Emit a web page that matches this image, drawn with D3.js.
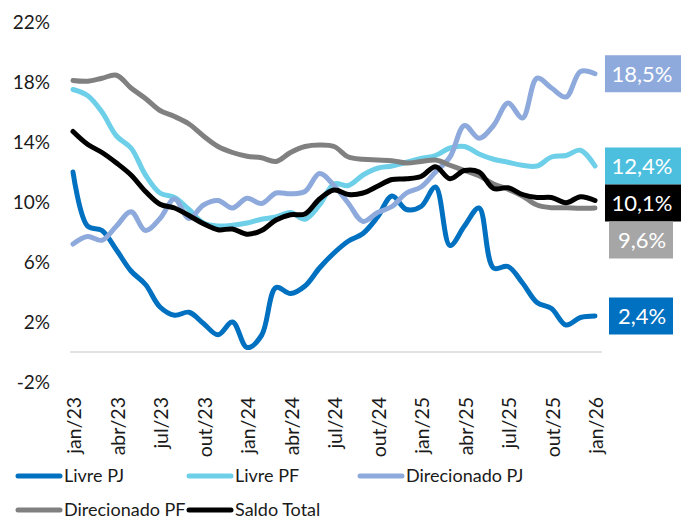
<!DOCTYPE html>
<html>
<head>
<meta charset="utf-8">
<script src="https://cdn.jsdelivr.net/npm/d3@7/dist/d3.min.js"></script>
<style>
  body { margin: 0; background: #fff; }
  text { font-family: Lato, "Open Sans", sans-serif; }
</style>
</head>
<body>
<script>
      // Data (% a.a.), jan/23 .. jan/26
      var months = ["jan/23","fev/23","mar/23","abr/23","mai/23","jun/23","jul/23","ago/23","set/23","out/23","nov/23","dez/23",
                    "jan/24","fev/24","mar/24","abr/24","mai/24","jun/24","jul/24","ago/24","set/24","out/24","nov/24","dez/24",
                    "jan/25","fev/25","mar/25","abr/25","mai/25","jun/25","jul/25","ago/25","set/25","out/25","nov/25","dez/25",
                    "jan/26"];

      var livrePJ = [12.0, 8.4, 8.1, 6.8, 5.4, 4.5, 3.0, 2.45, 2.65, 1.9, 1.15, 2.0,
                     0.3, 1.1, 4.3, 3.9, 4.4, 5.6, 6.6, 7.4, 7.9, 9.0, 10.4, 9.5,
                     9.7, 11.0, 7.1, 8.4, 9.6, 5.6, 5.7, 4.6, 3.3, 2.9, 1.8, 2.3,
                     2.4];
      var livrePF = [17.5, 17.1, 16.0, 14.4, 13.6, 11.8, 10.6, 10.3, 9.5, 8.6, 8.4, 8.45,
                     8.6, 8.85, 9.0, 9.3, 8.85, 9.8, 11.2, 11.1, 11.8, 12.25, 12.4, 12.65,
                     12.9, 13.1, 13.6, 13.7, 13.2, 12.85, 12.65, 12.45, 12.4, 13.0, 13.1, 13.45,
                     12.4];
      var direcPJ = [7.2, 7.7, 7.45, 8.4, 9.35, 8.1, 8.9, 10.2, 8.9, 9.8, 10.1, 9.6,
                     10.25, 9.9, 10.6, 10.55, 10.7, 11.9, 11.1, 9.9, 8.7, 9.3, 9.7, 10.6,
                     11.0, 12.0, 13.0, 15.1, 14.25, 15.1, 16.6, 15.6, 18.25, 17.6, 17.0, 18.7,
                     18.55];
      var direcPF = [18.1, 18.05, 18.25, 18.45, 17.6, 16.9, 16.1, 15.7, 15.2, 14.4, 13.7, 13.3,
                     13.05, 12.95, 12.7, 13.3, 13.7, 13.8, 13.7, 13.0, 12.85, 12.8, 12.75, 12.6,
                     12.7, 12.8, 12.45, 12.1, 11.75, 11.2, 10.85, 10.4, 9.8, 9.62, 9.62, 9.58,
                     9.6];
      var saldo   = [14.7, 13.85, 13.3, 12.6, 11.8, 10.7, 9.85, 9.6, 9.1, 8.55, 8.15, 8.2,
                     7.85, 8.1, 8.8, 9.15, 9.2, 10.2, 10.8, 10.5, 10.6, 11.05, 11.5, 11.55,
                     11.7, 12.35, 11.55, 12.1, 12.0, 10.9, 10.95, 10.5, 10.3, 10.3, 9.95, 10.35,
                     10.1];

      var names   = ["Livre PJ", "Livre PF", "Direcionado PJ", "Direcionado PF", "Saldo Total"];
      var colors  = ["#0070C0", "#6ECFE8", "#8EA9DB", "#808080", "#000000"];
      var boxFill = ["#0070C0", "#4CBFDE", "#8EA9DB", "#A6A6A6", "#000000"];
      var endLabels = ["2,4%", "12,4%", "18,5%", "9,6%", "10,1%"];
      var yTicks = [-2, 2, 6, 10, 14, 18, 22];

      var series = [livrePJ, livrePF, direcPJ, direcPF, saldo];

      var w = 681, h = 521;

      var svg = d3.select("body").append("svg")
          .attr("width", w)
          .attr("height", h);

      var x = d3.scalePoint().domain(months).range([73, 595]);
      var y = d3.scaleLinear().domain([-2, 22]).range([382, 22]);

      // y labels
      svg.append("g").selectAll("text")
        .data(yTicks)
        .enter().append("text")
          .attr("x", 50)
          .attr("y", d => y(d))
          .attr("dy", "0.36em")
          .attr("text-anchor", "end")
          .attr("font-size", 19)
          .attr("fill", "#1a1a1a")
          .text(d => d + "%");

      // zero line
      svg.append("line")
        .attr("x1", 70).attr("x2", 602)
        .attr("y1", y(0)).attr("y2", y(0))
        .attr("stroke", "#d9d9d9")
        .attr("stroke-width", 1.5);

      // x labels every 3 months, rotated
      svg.append("g").selectAll("text")
        .data(months.filter((m, i) => i % 3 === 0))
        .enter().append("text")
          .attr("transform", d => `translate(${x(d) + 1}, 397) rotate(-90)`)
          .attr("dy", "0.36em")
          .attr("text-anchor", "end")
          .attr("font-size", 19.5)
          .attr("fill", "#1a1a1a")
          .text(d => d);

      // lines
      var line = d3.line()
          .x((d, i) => x(months[i]))
          .y(d => y(d))
          .curve(d3.curveCatmullRom.alpha(0.5));

      svg.append("g").selectAll("path")
        .data(series)
        .enter().append("path")
          .attr("d", line)
          .attr("fill", "none")
          .attr("stroke", (d, i) => colors[i])
          .attr("stroke-width", 5)
          .attr("stroke-linejoin", "round")
          .attr("stroke-linecap", "round");

      // end labels, stacked top-down so boxes do not overlap
      var boxH = 37;
      var ends = series.map((s, i) => ({i: i, cy: y(s[s.length - 1])}))
          .sort((a, b) => a.cy - b.cy);
      var lastBottom = -Infinity;
      ends.forEach(e => {
        var top = Math.max(e.cy - boxH / 2, lastBottom);
        e.top = top;
        lastBottom = top + boxH;
      });

      var lab = svg.append("g").selectAll("g")
        .data(ends)
        .enter().append("g");

      lab.append("rect")
        .attr("x", d => endLabels[d.i].length > 4 ? 605 : 609)
        .attr("y", d => d.top)
        .attr("width", d => endLabels[d.i].length > 4 ? 78 : 64)
        .attr("height", boxH)
        .attr("fill", d => boxFill[d.i]);

      lab.append("text")
        .attr("x", 642)
        .attr("y", d => d.top + boxH / 2)
        .attr("dy", "0.36em")
        .attr("text-anchor", "middle")
        .attr("font-size", 22)
        .attr("fill", "#fff")
        .text(d => endLabels[d.i]);

      // legend
      var legX = [18, 189, 360, 18, 189];
      var legY = [476, 476, 476, 510, 510];

      var leg = svg.append("g").selectAll("g")
        .data(names)
        .enter().append("g")
          .attr("transform", (d, i) => `translate(${legX[i]}, ${legY[i]})`);

      leg.append("line")
        .attr("x1", 0).attr("x2", 42)
        .attr("stroke", (d, i) => colors[i])
        .attr("stroke-width", 5)
        .attr("stroke-linecap", "round");

      leg.append("text")
        .attr("x", 46)
        .attr("dy", "0.36em")
        .attr("font-size", 18)
        .attr("fill", "#1a1a1a")
        .text(d => d);
</script>
</body>
</html>
